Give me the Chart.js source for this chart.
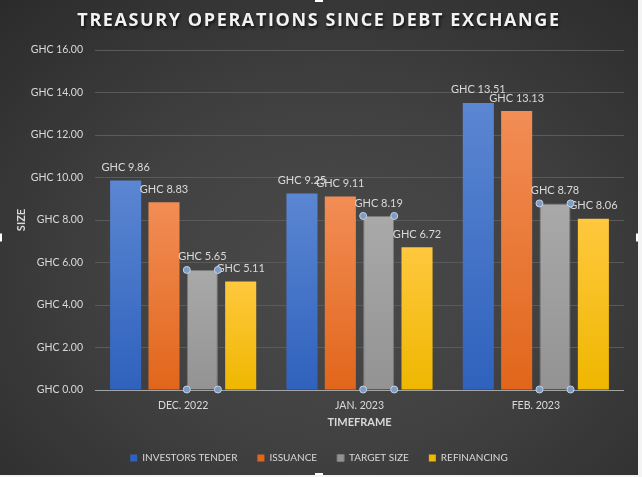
<!DOCTYPE html>
<html>
<head>
<meta charset="utf-8">
<script src="https://cdn.jsdelivr.net/npm/chart.js@4/dist/chart.umd.min.js"></script>
<style>
  html, body { margin: 0; padding: 0; background: #f4f4f4; }
  #wrap {
    position: relative;
    width: 638px;
    height: 475px;
    background: radial-gradient(ellipse 75% 80% at 52% 58%, #4a4a4a 0%, #414141 45%, #333333 80%, #2b2b2b 100%);
  }
</style>
</head>
<body>
<div id="wrap"><canvas id="chart"></canvas></div>
<script>
// data
const titleText = 'TREASURY OPERATIONS SINCE DEBT EXCHANGE';
const months = ['DEC. 2022', 'JAN. 2023', 'FEB. 2023'];
const investorsTender = [9.86, 9.25, 13.51];
const issuance = [8.83, 9.11, 13.13];
const targetSize = [5.65, 8.19, 8.78];
const refinancing = [5.11, 6.72, 8.06];

const textColor = '#d9d9d9';
const baseFont = 'Lato, "Open Sans", sans-serif';

// vertical fill per bar, lighter at the top like the Office gradient
function barFill(top, bottom) {
  return function (ctx) {
    const chart = ctx.chart;
    if (!chart.chartArea || ctx.raw == null) return bottom;
    const y = chart.scales.y;
    const y0 = y.getPixelForValue(ctx.raw);
    const y1 = y.getPixelForValue(0);
    const g = chart.ctx.createLinearGradient(0, y0, 0, y1);
    g.addColorStop(0, top);
    g.addColorStop(1, bottom);
    return g;
  };
}

const spacedTitle = {
  id: 'spacedTitle',
  afterDraw(chart) {
    const c = chart.ctx;
    c.save();
    c.font = 'bold 18px "Open Sans", sans-serif';
    c.letterSpacing = '1.6px';
    c.textAlign = 'center';
    c.textBaseline = 'middle';
    c.fillStyle = '#f2f2f2';
    c.shadowColor = 'rgba(0,0,0,0.75)';
    c.shadowBlur = 3;
    c.shadowOffsetX = 1;
    c.shadowOffsetY = 2;
    c.fillText(titleText, chart.width / 2, 21);
    c.restore();
  }
};

const valueLabels = {
  id: 'valueLabels',
  afterDatasetsDraw(chart) {
    const c = chart.ctx;
    c.save();
    c.font = '11px ' + baseFont;
    c.fillStyle = textColor;
    c.textAlign = 'center';
    c.textBaseline = 'middle';
    chart.data.datasets.forEach((ds, i) => {
      chart.getDatasetMeta(i).data.forEach((bar, j) => {
        c.fillText('GHC ' + ds.data[j].toFixed(2), bar.x, bar.y - 13);
      });
    });
    c.restore();
  }
};

// legend row sits a little right of centre in the original
const legendNudge = {
  id: 'legendNudge',
  afterLayout(chart) {
    chart.legend.left += 7;
    chart.legend.right += 7;
  }
};

// selection handles that sit on the grey series in the screenshot
const handles = {
  id: 'handles',
  afterDraw(chart) {
    const c = chart.ctx;
    c.save();
    c.fillStyle = '#7d9cc6';
    c.strokeStyle = '#c5d2e4';
    c.lineWidth = 1;
    chart.getDatasetMeta(2).data.forEach(bar => {
      const l = bar.x - bar.width / 2, r = bar.x + bar.width / 2;
      [[l, bar.y], [r, bar.y], [l, bar.base], [r, bar.base]].forEach(p => {
        c.beginPath();
        c.arc(p[0], p[1], 3.5, 0, Math.PI * 2);
        c.fill();
        c.stroke();
      });
    });
    c.fillStyle = '#ffffff';
    c.fillRect(chart.width / 2 - 4, 0, 8, 2);
    c.fillRect(chart.width / 2 - 4, chart.height - 2, 8, 2);
    c.fillRect(0, chart.height / 2 - 4, 2, 8);
    c.fillRect(chart.width - 2, chart.height / 2 - 4, 2, 8);
    c.restore();
  }
};

new Chart(document.getElementById('chart'), {
  type: 'bar',
  data: {
    labels: months,
    datasets: [
      { label: 'INVESTORS TENDER', data: investorsTender, backgroundColor: barFill('#5b86d2', '#2f62bd') },
      { label: 'ISSUANCE', data: issuance, backgroundColor: barFill('#f28d55', '#e1661b') },
      { label: 'TARGET SIZE', data: targetSize, backgroundColor: barFill('#a9a9a9', '#939393'), borderColor: '#7a7a7a', borderWidth: 1 },
      { label: 'REFINANCING', data: refinancing, backgroundColor: barFill('#ffc83e', '#efb700') }
    ]
  },
  options: {
    responsive: true,
    maintainAspectRatio: false,
    animation: false,
    categoryPercentage: 0.87,
    barPercentage: 0.81,
    layout: { padding: { top: 50, right: 14, left: 0, bottom: 2 } },
    scales: {
      x: {
        grid: { display: false, drawTicks: false },
        border: { display: false },
        ticks: { color: textColor, font: { family: baseFont, size: 10.5 }, padding: 9 },
        title: { display: true, text: 'TIMEFRAME', color: textColor, font: { family: baseFont, size: 11, weight: 'bold' }, padding: { top: 5, bottom: 4 } },
        afterFit(scale) { scale.height = 43; }
      },
      y: {
        min: 0,
        max: 16,
        border: { display: false },
        grid: {
          drawTicks: false,
          color: ctx => ctx.tick && ctx.tick.value === 0 ? '#a3a3a3' : '#5a5a5a'
        },
        ticks: {
          stepSize: 2,
          padding: 12,
          color: textColor,
          font: { family: baseFont, size: 10.5 },
          callback: v => 'GHC ' + v.toFixed(2)
        },
        title: { display: true, text: 'SIZE', color: textColor, font: { family: baseFont, size: 11, weight: 'bold' }, padding: { top: 15, bottom: 0 } },
        afterFit(scale) { scale.width = 95; }
      }
    },
    plugins: {
      title: { display: false },
      tooltip: { enabled: false },
      legend: {
        position: 'bottom',
        labels: {
          color: textColor,
          font: { family: baseFont, size: 10 },
          boxWidth: 7,
          boxHeight: 7,
          padding: 20
        }
      }
    }
  },
  plugins: [spacedTitle, valueLabels, legendNudge, handles]
});
</script>
</body>
</html>
